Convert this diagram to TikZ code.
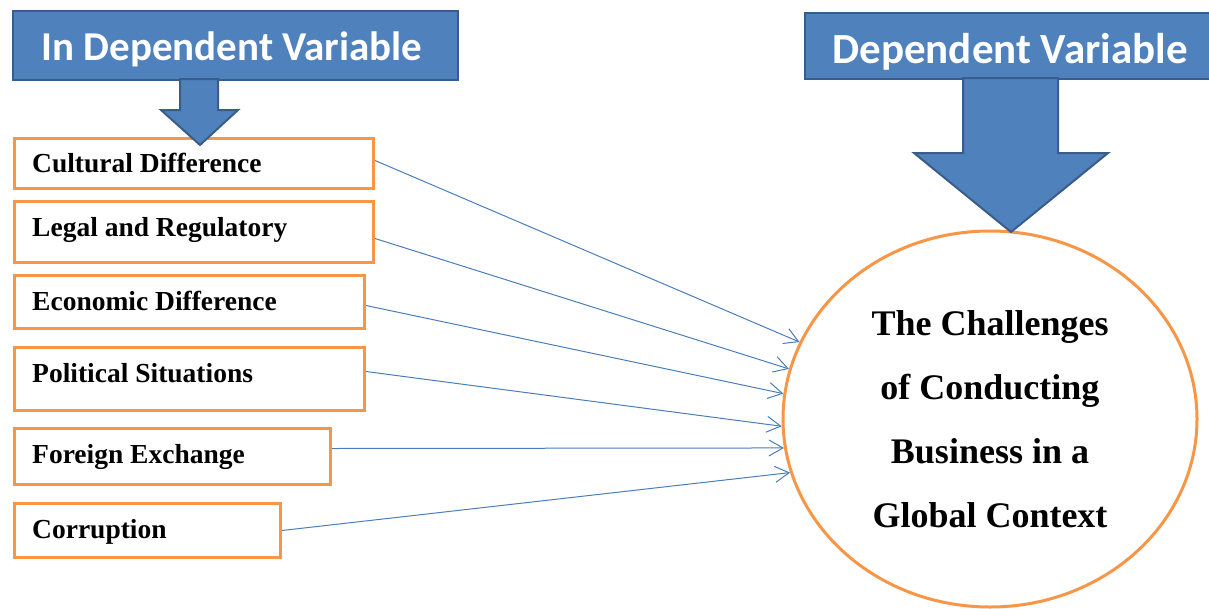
\documentclass[tikz,border=0pt]{standalone}
\usepackage{fontspec}
\setmainfont{Liberation Serif}
\newfontfamily\hdrfont{Carlito}
\usetikzlibrary{arrows.meta,shapes.geometric}
\definecolor{hdrblue}{RGB}{79,129,189}
\definecolor{hdredge}{RGB}{56,93,138}
\definecolor{boxorange}{RGB}{247,150,70}
\definecolor{linkblue}{RGB}{74,126,187}

\begin{document}
\begin{tikzpicture}[x=1pt,y=-1pt,
  header/.style={fill=hdrblue,draw=hdredge,line width=2pt,anchor=north west,inner sep=0pt},
  hdrtext/.style={text=white,font=\hdrfont\bfseries\fontsize{41}{41}\selectfont,anchor=base,inner sep=0pt},
  factor/.style={draw=boxorange,line width=3pt,anchor=north west,inner sep=0pt},
  ftext/.style={font=\bfseries\fontsize{27.5}{30}\selectfont,anchor=base west,inner sep=0pt},
  blockarrow/.style={fill=hdrblue,draw=hdredge,line width=2pt,line join=miter},
  link/.style={draw=linkblue,line width=1pt,-{Straight Barb[length=14pt,width=16pt,line width=1pt]}}]

\useasboundingbox (0,0) rectangle (1209,608);

% headers
\node[header,minimum width=445,minimum height=69] (hl) at (12,10) {};
\node[hdrtext] (hlt) at (232,60) {In Dependent Variable};
\node[header,minimum width=412,minimum height=66] (hr) at (804,12) {};
\node[hdrtext,font=\hdrfont\bfseries\fontsize{43}{43}\selectfont] (hrt) at (1010,63) {Dependent Variable};

% independent factors
\node[factor,minimum width=359,minimum height=50] (c1) at (13,137) {};
\node[ftext] (t1) at (32,172) {Cultural Difference};
\node[factor,minimum width=359,minimum height=61] (c2) at (13,200) {};
\node[ftext] (t2) at (32,236) {Legal and Regulatory};
\node[factor,minimum width=350,minimum height=53] (c3) at (13,274) {};
\node[ftext] (t3) at (32,310) {Economic Difference};
\node[factor,minimum width=350,minimum height=63] (c4) at (13,346) {};
\node[ftext] (t4) at (32,382) {Political Situations};
\node[factor,minimum width=316,minimum height=56] (c5) at (13,427) {};
\node[ftext] (t5) at (32,463) {Foreign Exchange};
\node[factor,minimum width=266,minimum height=54] (c6) at (13,502) {};
\node[ftext] (t6) at (32,538) {Corruption};

% dependent outcome
\node[ellipse,draw=boxorange,line width=3pt,minimum width=414,minimum height=376,inner sep=0pt,
      align=center,font=\bfseries\fontsize{36}{64}\selectfont] (goal) at (990,419)
  {The Challenges\\of Conducting\\Business in a\\Global Context};

% block arrows under the headers
\draw[blockarrow] (180,79) -- (180,110) -- (161,110) -- (200,145) -- (238,110) -- (218,110) -- (218,79) -- cycle;
\draw[blockarrow] (963,78) -- (963,153) -- (914,153) -- (1011,232) -- (1108,153) -- (1058,153) -- (1058,78) -- cycle;

% links from factors to outcome
\draw[link] ([yshift=3pt]c1.east) -- (goal.158);
\draw[link] ([yshift=-6.5pt]c2.east) -- (goal.166);
\draw[link] ([yshift=-3.5pt]c3.east) -- (goal.173);
\draw[link] ([yshift=7.5pt]c4.east) -- (goal.182);
\draw[link] ([yshift=8pt]c5.east) -- (goal.188);
\draw[link] (c6.east) -- (goal.195);
\end{tikzpicture}
\end{document}
